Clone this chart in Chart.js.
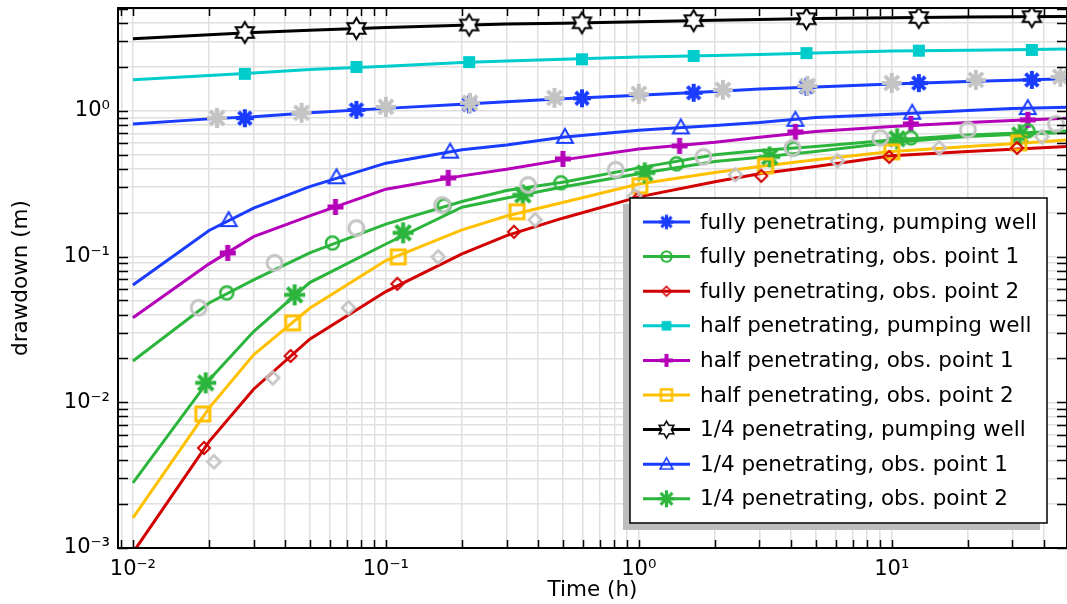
<!DOCTYPE html>
<html>
  <head>
    <title>drawdown (m) vs Time (h)</title>
    <meta charset="UTF-8">
    <style>
      html, body {
        margin: 0;
        padding: 0;
        background: #fff;
        overflow: hidden;
      }
    </style>
  </head>
  <body>
    <canvas id="canvas" width="1067" height="604"></canvas>
    <script src="https://cdn.jsdelivr.net/npm/chart.js@4.4.1/dist/chart.umd.min.js"></script>
    <script>
    // output times of the computed curves (h)
    var times = [0.01, 0.02, 0.03, 0.05, 0.1, 0.2, 0.3, 0.5, 1, 2, 3, 5, 10, 20, 30, 50];

    // drawdown (m) at those times
    var fullyWell   = [0.814, 0.881, 0.91, 0.969, 1.04, 1.11, 1.153, 1.21, 1.28, 1.36, 1.41, 1.46, 1.53, 1.59, 1.62, 1.66];
    var fullyObs1   = [0.0192, 0.048, 0.0692, 0.106, 0.167, 0.2385, 0.284, 0.324, 0.406, 0.499, 0.534, 0.569, 0.632, 0.684, 0.703, 0.729];
    var fullyObs2   = [0.00093, 0.00537, 0.0123, 0.0271, 0.0575, 0.1044, 0.1394, 0.1834, 0.257, 0.326, 0.37, 0.415, 0.491, 0.526, 0.546, 0.569];
    var halfWell    = [1.633, 1.75, 1.82, 1.92, 2.02, 2.15, 2.2, 2.26, 2.34, 2.4, 2.44, 2.49, 2.57, 2.61, 2.63, 2.66];
    var halfObs1    = [0.038, 0.0891, 0.137, 0.19, 0.29, 0.358, 0.398, 0.461, 0.548, 0.61, 0.66, 0.721, 0.781, 0.832, 0.858, 0.891];
    var halfObs2    = [0.00161, 0.00912, 0.0212, 0.0442, 0.0939, 0.1526, 0.19, 0.235, 0.315, 0.377, 0.415, 0.461, 0.526, 0.569, 0.594, 0.632];
    var quarterWell = [3.12, 3.33, 3.45, 3.58, 3.73, 3.87, 3.94, 4.0, 4.08, 4.19, 4.24, 4.3, 4.36, 4.4, 4.42, 4.45];
    var quarterObs1 = [0.0639, 0.151, 0.215, 0.302, 0.4375, 0.54, 0.584, 0.66, 0.735, 0.793, 0.831, 0.9, 0.949, 1.005, 1.037, 1.06];
    var quarterObs2 = [0.0028, 0.01425, 0.0306, 0.0663, 0.122, 0.218, 0.252, 0.3, 0.37, 0.449, 0.481, 0.526, 0.606, 0.667, 0.688, 0.71];

    // marker positions along the curves
    var wellMarkT        = [0.0277, 0.0765, 0.2135, 0.596, 1.648, 4.6, 12.8, 35.8];
    var fullyWellMarkY   = [0.89, 1.016, 1.11, 1.22, 1.33, 1.46, 1.55, 1.63];
    var halfWellMarkY    = [1.795, 2.0, 2.16, 2.26, 2.38, 2.49, 2.59, 2.62];
    var quarterWellMarkY = [3.45, 3.68, 3.88, 4.02, 4.16, 4.29, 4.37, 4.43];
    var fullyObs1MarkT   = [0.0235, 0.0615, 0.17, 0.492, 1.41, 4.09, 11.9, 34.5];
    var fullyObs1MarkY   = [0.0563, 0.124, 0.223, 0.321, 0.433, 0.548, 0.653, 0.729];
    var fullyObs2MarkT   = [0.0191, 0.042, 0.111, 0.321, 0.99, 3.05, 9.77, 31.3];
    var fullyObs2MarkY   = [0.00486, 0.0208, 0.065, 0.1478, 0.25, 0.358, 0.483, 0.557];
    var halfObs1MarkT    = [0.0237, 0.0632, 0.1764, 0.501, 1.45, 4.16, 11.9, 34.5];
    var halfObs1MarkY    = [0.106, 0.219, 0.347, 0.468, 0.575, 0.718, 0.814, 0.868];
    var halfObs2MarkT    = [0.0189, 0.0428, 0.112, 0.33, 1.01, 3.17, 10.0, 31.8];
    var halfObs2MarkY    = [0.00832, 0.0351, 0.0995, 0.203, 0.306, 0.419, 0.523, 0.603];
    var quarterObs1MarkT = [0.0239, 0.0638, 0.1795, 0.5105, 1.465, 4.16, 12.05, 34.5];
    var quarterObs1MarkY = [0.178, 0.35, 0.525, 0.663, 0.77, 0.868, 0.97, 1.045];
    var quarterObs2MarkT = [0.0194, 0.0436, 0.117, 0.348, 1.056, 3.29, 10.5, 32.1];
    var quarterObs2MarkY = [0.0136, 0.0546, 0.1455, 0.265, 0.375, 0.483, 0.643, 0.684];

    // gray reference points (no legend entry)
    var refWellT = [0.0215, 0.0464, 0.1, 0.215, 0.464, 1, 2.15, 4.64, 10, 21.5, 46.4];
    var refWellY = [0.895, 0.969, 1.065, 1.135, 1.228, 1.308, 1.394, 1.484, 1.556, 1.633, 1.712];
    var refObs1T = [0.0182, 0.0363, 0.0765, 0.167, 0.365, 0.811, 1.8, 4.05, 9.01, 20.0, 44.6];
    var refObs1Y = [0.0445, 0.0906, 0.157, 0.226, 0.31, 0.394, 0.483, 0.557, 0.653, 0.741, 0.814];
    var refObs2T = [0.0209, 0.0357, 0.0711, 0.161, 0.389, 0.964, 2.41, 6.1, 15.4, 39.2];
    var refObs2Y = [0.0039, 0.0147, 0.0445, 0.0995, 0.1786, 0.261, 0.364, 0.454, 0.557, 0.663];

    var labels = [
        'fully penetrating, pumping well',
        'fully penetrating, obs. point 1',
        'fully penetrating, obs. point 2',
        'half penetrating, pumping well',
        'half penetrating, obs. point 1',
        'half penetrating, obs. point 2',
        '1/4 penetrating, pumping well',
        '1/4 penetrating, obs. point 1',
        '1/4 penetrating, obs. point 2'
    ];
    var BLUE = '#1a3cff', GREEN = '#2cb53c', RED = '#d20000', CYAN = '#00cccc',
        MAGENTA = '#b400b8', YELLOW = '#ffc000', BLACK = '#000000', GRAY = '#c4c4c4';
    var FONT = { family: "'DejaVu Sans', sans-serif", size: 21.5 };
    var TICK_FONT = { family: "'DejaVu Sans', sans-serif", size: 21 };

    // draw a marker into a small canvas, used as pointStyle
    function makeMarker(kind, color, size, lw) {
        var pad = Math.ceil(lw) + 2;
        var dim = Math.ceil(size + 2 * pad);
        var c = document.createElement('canvas');
        c.width = dim;
        c.height = dim;
        var g = c.getContext('2d');
        var m = dim / 2, r = size / 2;
        g.strokeStyle = color;
        g.fillStyle = color;
        g.lineWidth = lw;
        g.beginPath();
        if (kind === 'circle') {
            g.arc(m, m, r, 0, 2 * Math.PI);
            g.stroke();
        } else if (kind === 'square') {
            g.strokeRect(m - r, m - r, size, size);
        } else if (kind === 'fsquare') {
            g.fillRect(m - r, m - r, size, size);
        } else if (kind === 'diamond') {
            g.moveTo(m, m - r); g.lineTo(m + r, m); g.lineTo(m, m + r); g.lineTo(m - r, m);
            g.closePath();
            g.stroke();
        } else if (kind === 'triangle') {
            g.moveTo(m, m - r); g.lineTo(m + r, m + r * 0.75); g.lineTo(m - r, m + r * 0.75);
            g.closePath();
            g.stroke();
        } else if (kind === 'plus') {
            g.moveTo(m - r, m); g.lineTo(m + r, m);
            g.moveTo(m, m - r); g.lineTo(m, m + r);
            g.stroke();
        } else if (kind === 'star8') {
            for (var k = 0; k < 4; k++) {
                var a = k * Math.PI / 4;
                g.moveTo(m - r * Math.cos(a), m - r * Math.sin(a));
                g.lineTo(m + r * Math.cos(a), m + r * Math.sin(a));
            }
            g.stroke();
        } else if (kind === 'hexagram') {
            for (var j = 0; j < 12; j++) {
                var ang = -Math.PI / 2 + j * Math.PI / 6;
                var rr = j % 2 === 0 ? r : r / Math.sqrt(3);
                var px = m + rr * Math.cos(ang), py = m + rr * Math.sin(ang);
                if (j === 0) g.moveTo(px, py); else g.lineTo(px, py);
            }
            g.closePath();
            g.fillStyle = '#fff';
            g.fill();
            g.stroke();
        }
        return c;
    }

    var seriesValues = [fullyWell, fullyObs1, fullyObs2, halfWell, halfObs1, halfObs2, quarterWell, quarterObs1, quarterObs2];
    var seriesMarkT = [wellMarkT, fullyObs1MarkT, fullyObs2MarkT, wellMarkT, halfObs1MarkT, halfObs2MarkT, wellMarkT, quarterObs1MarkT, quarterObs2MarkT];
    var seriesMarkY = [fullyWellMarkY, fullyObs1MarkY, fullyObs2MarkY, halfWellMarkY, halfObs1MarkY, halfObs2MarkY, quarterWellMarkY, quarterObs1MarkY, quarterObs2MarkY];
    var seriesColors = [BLUE, GREEN, RED, CYAN, MAGENTA, YELLOW, BLACK, BLUE, GREEN];
    // kind, size, line width
    var seriesMarkers = [
        ['star8', 18, 4], ['circle', 13, 2.5], ['diamond', 12, 2],
        ['fsquare', 12, 0], ['plus', 16, 5], ['square', 14, 3],
        ['hexagram', 21, 2], ['triangle', 16, 2], ['star8', 21, 4]
    ];

    function pts(xs, ys) {
        return xs.map(function (x, i) { return { x: x, y: ys[i] }; });
    }

    var datasets = [];
    var legendItems = [];
    for (var i = 0; i < labels.length; i++) {
        var mk = seriesMarkers[i];
        datasets.push({
            label: labels[i],
            data: pts(times, seriesValues[i]),
            borderColor: seriesColors[i],
            backgroundColor: seriesColors[i],
            borderWidth: 3,
            pointRadius: 0,
            tension: 0,
            fill: false,
            order: 2
        });
        datasets.push({
            label: labels[i] + ' markers',
            data: pts(seriesMarkT[i], seriesMarkY[i]),
            showLine: false,
            pointStyle: makeMarker(mk[0], seriesColors[i], mk[1], mk[2]),
            pointRadius: 6,
            pointHoverRadius: 6,
            order: 1
        });
        legendItems.push({
            text: labels[i],
            color: seriesColors[i],
            marker: makeMarker(mk[0], seriesColors[i], mk[1] * 0.8, Math.max(mk[2] * 0.8, 1.5))
        });
    }
    datasets.push({ label: 'ref well', data: pts(refWellT, refWellY), showLine: false,
        pointStyle: makeMarker('star8', GRAY, 20, 4), pointRadius: 6, order: 0 });
    datasets.push({ label: 'ref obs 1', data: pts(refObs1T, refObs1Y), showLine: false,
        pointStyle: makeMarker('circle', GRAY, 15, 3), pointRadius: 6, order: 0 });
    datasets.push({ label: 'ref obs 2', data: pts(refObs2T, refObs2Y), showLine: false,
        pointStyle: makeMarker('diamond', GRAY, 13, 2.5), pointRadius: 6, order: 0 });

    // 1..9 x 10^n ticks only
    function logTicks(scale) {
        var out = [];
        for (var e = Math.floor(Math.log10(scale.min)); e <= Math.ceil(Math.log10(scale.max)); e++) {
            for (var m = 1; m <= 9; m++) {
                var v = Number((m * Math.pow(10, e)).toPrecision(6));
                if (v >= scale.min && v <= scale.max) out.push({ value: v });
            }
        }
        scale.ticks = out;
    }
    var SUP = { '-': '\u207b', '0': '\u2070', '1': '\u00b9', '2': '\u00b2', '3': '\u00b3',
                '4': '\u2074', '5': '\u2075', '6': '\u2076', '7': '\u2077', '8': '\u2078', '9': '\u2079' };
    function powLabel(v) {
        var l = Math.log10(v), e = Math.round(l);
        if (Math.abs(l - e) > 1e-6) return '';
        return '10' + String(e).split('').map(function (c) { return SUP[c]; }).join('');
    }

    // frame with inward ticks on all four sides, then the boxed legend
    var framePlugin = {
        id: 'frame',
        afterDatasetsDraw: function (chart) {
            var a = chart.chartArea, ctx = chart.ctx;
            var xs = chart.scales.x, ys = chart.scales.y;
            ctx.save();
            ctx.strokeStyle = '#000';
            ctx.lineWidth = 1.5;
            ctx.beginPath();
            xs.ticks.forEach(function (t) {
                var p = Math.round(xs.getPixelForValue(t.value)) + 0.5;
                ctx.moveTo(p, a.bottom); ctx.lineTo(p, a.bottom - 8);
                ctx.moveTo(p, a.top); ctx.lineTo(p, a.top + 8);
            });
            ys.ticks.forEach(function (t) {
                var p = Math.round(ys.getPixelForValue(t.value)) + 0.5;
                ctx.moveTo(a.left, p); ctx.lineTo(a.left + 10, p);
                ctx.moveTo(a.right, p); ctx.lineTo(a.right - 10, p);
            });
            ctx.stroke();
            ctx.lineWidth = 2;
            ctx.strokeRect(a.left, a.top, a.right - a.left, a.bottom - a.top);

            // legend box
            var bx = 630, by = 198, bw = 417, bh = 325;
            ctx.fillStyle = '#bdbdbd';
            ctx.fillRect(bx - 7, by + 6, bw, bh + 1);
            ctx.fillStyle = '#fff';
            ctx.fillRect(bx, by, bw, bh);
            ctx.lineWidth = 1.5;
            ctx.strokeRect(bx, by, bw, bh);
            ctx.font = FONT.size + 'px ' + FONT.family;
            ctx.textBaseline = 'middle';
            ctx.textAlign = 'left';
            legendItems.forEach(function (it, k) {
                var y = 222 + k * 34.6;
                ctx.strokeStyle = it.color;
                ctx.lineWidth = 3;
                ctx.beginPath();
                ctx.moveTo(643, y); ctx.lineTo(690, y);
                ctx.stroke();
                ctx.drawImage(it.marker, 666.5 - it.marker.width / 2, y - it.marker.height / 2);
                ctx.fillStyle = '#000';
                ctx.fillText(it.text, 700, y + 1);
            });
            ctx.restore();
        }
    };

    var ctx = document.getElementById('canvas').getContext('2d');
    var chart = new Chart(ctx, {
        type: 'line',
        data: { datasets: datasets },
        plugins: [framePlugin],
        options: {
            responsive: false,
            animation: false,
            devicePixelRatio: 1,
            layout: { autoPadding: false, padding: { top: 8, right: -3, left: 0, bottom: 0 } },
            plugins: {
                legend: { display: false },
                tooltip: { enabled: false }
            },
            scales: {
                x: {
                    type: 'logarithmic',
                    bounds: 'data',
                    min: 0.00873,
                    max: 49.3,
                    afterBuildTicks: logTicks,
                    afterFit: function (s) {
                        s.height = 56;
                        s.paddingLeft = 0;
                        s.paddingRight = 0;
                    },
                    grid: { color: '#e0e0e0', lineWidth: 1.5, drawTicks: false },
                    border: { display: false },
                    ticks: { callback: powLabel, autoSkip: false, maxRotation: 0, padding: 9, font: TICK_FONT, color: '#000' },
                    title: { display: true, text: 'Time (h)', font: FONT, color: '#000', padding: { top: 0, bottom: 1 } }
                },
                y: {
                    type: 'logarithmic',
                    bounds: 'data',
                    min: 0.001,
                    max: 5.08,
                    afterBuildTicks: logTicks,
                    afterFit: function (s) {
                        s.width = 118;
                        s.paddingTop = 0;
                        s.paddingBottom = 0;
                    },
                    grid: { color: '#e0e0e0', lineWidth: 1.5, drawTicks: false },
                    border: { display: false },
                    ticks: { callback: powLabel, autoSkip: false, padding: 8, font: TICK_FONT, color: '#000' },
                    title: { display: true, text: 'drawdown (m)', font: FONT, color: '#000', padding: { top: 9, bottom: 0 } }
                }
            }
        }
    });
    </script>
  </body>
</html>
